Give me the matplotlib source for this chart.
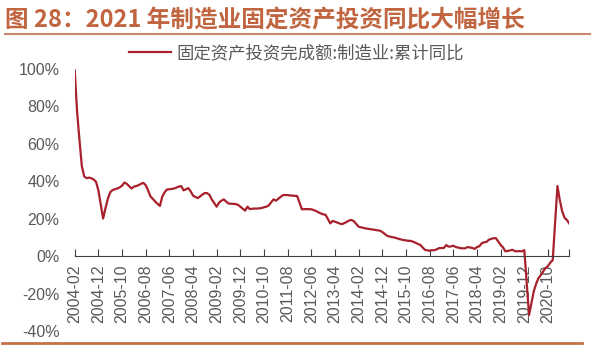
import matplotlib
matplotlib.use("Agg")
import matplotlib.pyplot as plt
from matplotlib.lines import Line2D

# monthly cumulative YoY (%), Feb..Dec each year (no January release)
years = list(range(2004, 2022))
yoy = [
    [99, 77, 62, 48, 42.5, 41.5, 41.8, 41.5, 40.8, 39.6, 35],          # 2004
    [20, 25.5, 30.5, 34, 35.2, 35.6, 36, 36.6, 37.5, 39.2, 38.5],       # 2005
    [36, 37, 37.3, 37.8, 38.5, 39, 37.8, 35, 31.8, 30.5, 29],           # 2006
    [26.7, 31.7, 34, 35.5, 35.6, 35.8, 36, 36.5, 37, 37.3, 35],         # 2007
    [36.2, 34.5, 32.2, 31.5, 30.9, 31.8, 32.8, 33.6, 33.5, 32.5, 30],   # 2008
    [26.3, 28.5, 29.5, 30.2, 29, 28, 27.9, 27.8, 27.7, 27.3, 26.3],     # 2009
    [24.2, 26.3, 25, 25.2, 25.3, 25.3, 25.4, 25.6, 26, 26.3, 27],       # 2010
    [30.2, 29.5, 30.5, 31.5, 32.5, 32.5, 32.5, 32.3, 32.2, 32.1, 32],   # 2011
    [24.9, 25, 25, 25, 24.9, 24.5, 24, 23.3, 22.7, 22.2, 22],           # 2012
    [17.4, 18.7, 18.3, 17.8, 17.3, 17, 17.6, 18.2, 19, 19.2, 18.5],     # 2013
    [15.6, 15.3, 15, 14.7, 14.5, 14.3, 14.1, 13.9, 13.7, 13.5, 12.8],   # 2014
    [10.8, 10.4, 10.1, 9.9, 9.5, 9.1, 8.8, 8.5, 8.3, 8.1, 8.1],         # 2015
    [7.1, 6.4, 6.0, 4.6, 3.3, 3.0, 2.8, 3.1, 3.1, 3.6, 4.2],            # 2016
    [4.3, 5.8, 5.0, 5.1, 5.5, 4.8, 4.5, 4.2, 4.1, 4.1, 4.8],            # 2017
    [4.3, 3.8, 4.8, 5.2, 6.8, 7.3, 7.5, 8.7, 9.1, 9.5, 9.5],            # 2018
    [5.9, 4.6, 2.5, 2.7, 3.0, 3.3, 2.6, 2.5, 2.6, 2.5, 3.1],            # 2019
    [-31.5, -25.2, -18.8, -14.8, -11.7, -10.2, -8.1, -6.5, -5.3, -3.5, -2.2],  # 2020
    [37.3, 29.8, 23.8, 20.4, 19.2, 17.3],                                # 2021
]
label_step = 10  # months between axis labels
series_name = "固定资产投资完成额:制造业:累计同比"
title = "图 28：2021 年制造业固定资产投资同比大幅增长"

# month index counted from 2004-02
x = []
y = []
for yr, vals in zip(years, yoy):
    for i, v in enumerate(vals):
        x.append((yr - 2004) * 12 + i)
        y.append(v)
last = x[-1]

def month_name(m):
    total = 2004 * 12 + 1 + m
    return "%d-%02d" % (total // 12, total % 12 + 1)

fig = plt.figure(figsize=(5.93, 3.55), dpi=100)
ax = fig.add_axes([0.126, 0.0676, 0.834, 0.7394])

line_col = "#A8202B"
grey = "#595959"
ax.plot(x, y, color=line_col, lw=1.6, label=series_name)

# spine position first: moving it resets the tick objects
for s in ["top", "right", "left"]:
    ax.spines[s].set_visible(False)
ax.spines["bottom"].set_position(("data", 0))
ax.spines["bottom"].set_color("#404040")

ax.set_xlim(0, last)
ax.set_ylim(-40, 100)
ticks = list(range(0, last, label_step))
ax.set_xticks(ticks + [last])
ax.set_xticklabels([month_name(t) for t in ticks] + [""], rotation=90,
                   family="Liberation Sans", fontsize=11.5, color=grey)
ax.set_yticks(range(-40, 101, 20))
ax.set_yticklabels(["%d%%" % v for v in range(-40, 101, 20)],
                   family="Liberation Sans", fontsize=11.5, color=grey)
ax.tick_params(axis="x", direction="in", length=5, color="#404040", pad=6)
ax.tick_params(axis="y", length=0, pad=11)

leg = fig.legend(loc="center", bbox_to_anchor=(0.500, 0.851), frameon=False,
                 handlelength=2.4, handletextpad=0.3,
                 prop={"family": ["Noto Sans CJK SC", "DejaVu Sans"], "size": 12.5})
for t in leg.get_texts():
    t.set_color(grey)

title_col = "#C0653F"
fig.text(0.009, 1 - 20 / 355, title, fontsize=17, fontweight="bold",
         color=title_col, va="center", ha="left",
         family=["Noto Sans CJK SC", "DejaVu Sans"])
fig.add_artist(Line2D([5 / 593, 590 / 593], [1 - 34 / 355] * 2,
                      transform=fig.transFigure, color="#C9886C", lw=1.5))
fig.add_artist(Line2D([2 / 593, 582 / 593], [1 - 342.5 / 355] * 2,
                      transform=fig.transFigure, color="#C8704A", lw=2))

fig.savefig("out.png", dpi=100)
